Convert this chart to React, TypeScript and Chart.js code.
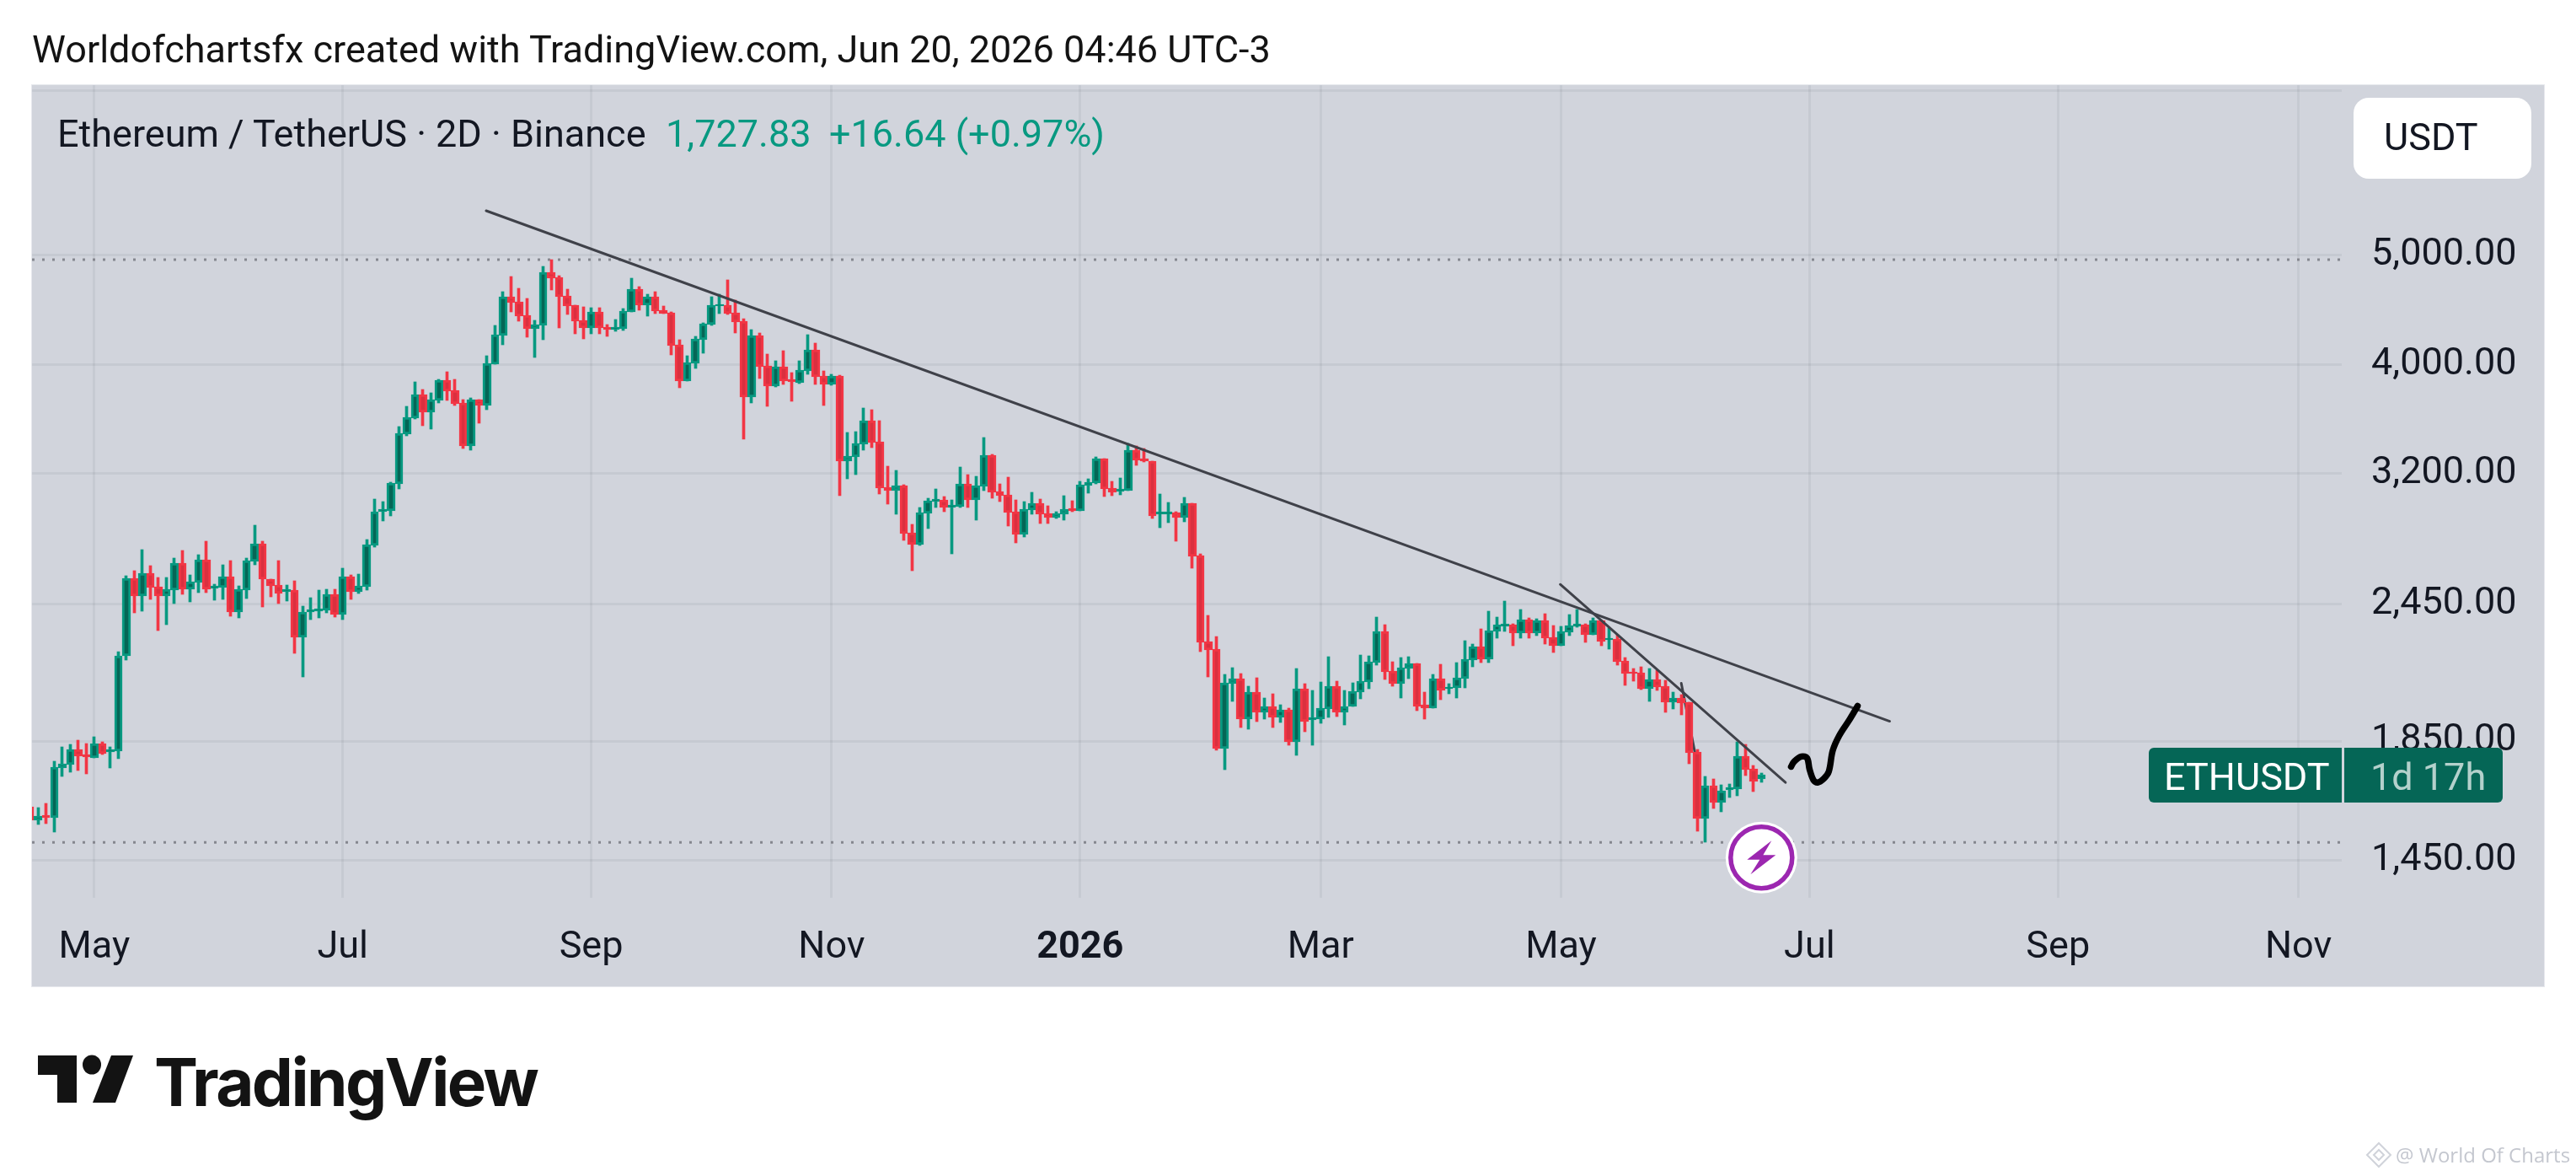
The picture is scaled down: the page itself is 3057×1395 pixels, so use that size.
import React, { useEffect, useRef } from "react";
import { Chart, registerables } from "chart.js";

Chart.register(...registerables);

const barOpen = [
  1619,1573,1589,1581,1750,1762,1818,1799,1787,1840,
  1809,1812,2203,2581,2489,2608,2537,2489,2519,2662,
  2523,2559,2680,2528,2532,2590,2409,2519,2671,2770,
  2576,2545,2510,2519,2287,2409,2413,2417,2497,2396,
  2590,2510,2537,2760,2958,2963,3131,3467,3583,3760,
  3626,3715,3872,3792,3696,3384,3721,3677,4001,4244,
  4594,4547,4423,4302,4332,4830,4780,4602,4515,4377,
  4310,4453,4317,4295,4302,4453,4666,4515,4594,4469,
  4445,4163,3866,4008,4207,4340,4507,4515,4445,4369,
  3740,4244,3987,3825,3980,3879,3852,3946,4120,3906,
  3839,3906,3281,3308,3396,3564,3413,3110,3088,3120,
  2833,2765,2948,3020,3030,2983,2988,3131,3030,3115,
  3320,3083,3062,2958,2823,2968,3009,2948,2923,2943,
  2978,2963,3120,3137,3297,3104,3083,3088,3355,3297,
  3281,2943,2943,2953,2923,3009,2704,2267,2232,1821,
  2080,2102,1934,2044,1961,1988,1941,1971,1849,2058,
  1931,1934,1975,2069,1964,1985,2044,2087,2172,2315,
  2135,2080,2146,2168,1992,1978,2102,2058,2062,2102,
  2183,2244,2187,2315,2339,2347,2307,2371,2307,2367,
  2287,2251,2311,2339,2347,2299,2367,2275,2279,2179,
  2131,2128,2058,2098,2069,2002,2020,2002,1809,1578,
  1688,1633,1673,1676,1793,1747,1711,
];
const barClose = [
  1573,1586,1581,1753,1765,1818,1793,1790,1840,1802,
  1818,2203,2581,2489,2608,2532,2489,2523,2662,2523,
  2563,2680,2523,2541,2590,2409,2523,2676,2770,2576,
  2541,2502,2523,2287,2409,2421,2425,2497,2396,2590,
  2510,2541,2765,2958,2973,3137,3473,3589,3760,3626,
  3721,3872,3786,3689,3384,3721,3677,4008,4251,4594,
  4539,4415,4302,4340,4830,4772,4594,4507,4369,4310,
  4453,4310,4295,4317,4461,4666,4515,4594,4461,4438,
  4156,3866,4015,4214,4347,4515,4523,4438,4362,3740,
  4244,3980,3825,3980,3866,3859,3953,4120,3899,3839,
  3906,3281,3314,3402,3564,3407,3104,3088,3120,2828,
  2765,2953,3025,3035,2983,2999,3131,3030,3120,3320,
  3078,3056,2953,2823,2973,3009,2943,2923,2948,2973,
  2963,3126,3142,3297,3099,3078,3099,3355,3286,3281,
  2933,2958,2958,2923,3009,2699,2263,2228,1821,2083,
  2102,1934,2044,1961,1988,1941,1971,1849,2058,1924,
  1941,1978,2069,1964,1988,2048,2091,2176,2315,2131,
  2080,2150,2168,1985,1981,2102,2051,2066,2106,2187,
  2244,2187,2319,2347,2351,2307,2371,2307,2367,2283,
  2251,2315,2343,2351,2299,2367,2267,2283,2176,2124,
  2124,2058,2098,2066,2002,2020,1999,1806,1578,1688,
  1633,1671,1682,1793,1744,1705,1728,
];
const barHigh = [
  1625,1614,1628,1775,1830,1837,1855,1840,1868,1846,
  1830,2224,2597,2621,2737,2648,2585,2585,2690,2732,
  2599,2708,2784,2550,2653,2676,2541,2690,2877,2784,
  2576,2676,2545,2567,2438,2480,2519,2523,2523,2635,
  2599,2603,2794,3035,3020,3142,3521,3670,3859,3799,
  3773,3879,3939,3879,3721,3734,3721,4071,4332,4642,
  4789,4674,4578,4377,4889,4956,4797,4666,4515,4499,
  4492,4492,4340,4385,4484,4772,4690,4618,4642,4507,
  4453,4207,4071,4236,4354,4594,4618,4756,4562,4392,
  4295,4266,4085,4029,4114,3933,4029,4251,4178,3946,
  3919,3912,3479,3485,3658,3645,3564,3247,3219,3126,
  2882,2983,3041,3099,3051,3030,3241,3192,3181,3443,
  3326,3131,3175,3030,3020,3078,3035,2994,2958,3056,
  3025,3148,3164,3308,3297,3148,3170,3402,3384,3366,
  3281,3067,3015,2958,3046,3009,2713,2392,2291,2120,
  2150,2124,2069,2106,2020,2037,1992,1981,2146,2080,
  2051,2087,2198,2091,2051,2083,2205,2202,2384,2347,
  2176,2194,2198,2168,2044,2120,2165,2080,2172,2271,
  2255,2327,2413,2384,2463,2351,2421,2380,2375,2400,
  2343,2339,2396,2421,2351,2380,2367,2331,2299,2194,
  2146,2153,2146,2138,2095,2044,2034,2002,1818,1720,
  1711,1691,1694,1846,1837,1759,1732,
];
const barLow = [
  1570,1559,1562,1535,1720,1735,1741,1729,1787,1799,
  1750,1784,2185,2405,2413,2472,2319,2347,2451,2497,
  2459,2506,2506,2468,2472,2388,2380,2476,2653,2434,
  2485,2451,2463,2213,2109,2371,2380,2405,2384,2371,
  2472,2502,2519,2751,2902,2933,3099,3455,3577,3527,
  3503,3696,3715,3677,3366,3355,3546,3645,4001,4163,
  4453,4369,4229,4057,4207,4658,4310,4430,4258,4214,
  4258,4258,4236,4280,4288,4453,4469,4415,4438,4438,
  4078,3812,3866,3967,4092,4332,4438,4430,4266,3431,
  3696,3886,3670,3819,3839,3708,3846,3919,3839,3677,
  3832,3056,3164,3192,3355,3372,3067,3004,2943,2789,
  2621,2760,2858,2983,2958,2713,2983,2983,2907,3088,
  3041,3020,2872,2775,2808,2943,2887,2887,2917,2907,
  2958,2963,3072,3131,3051,3056,3062,3088,3253,3275,
  2917,2862,2892,2784,2897,2635,2221,2109,1815,1744,
  2006,1901,1895,1924,1934,1904,1921,1834,1796,1885,
  1834,1918,1941,1944,1914,1985,2016,2058,2161,2098,
  2069,2020,2102,1968,1934,1978,2013,2037,2020,2062,
  2153,2172,2172,2283,2315,2251,2283,2283,2295,2255,
  2217,2251,2295,2335,2263,2299,2251,2232,2161,2073,
  2091,2055,2006,2051,1964,1975,1954,1766,1538,1504,
  1611,1600,1650,1653,1723,1668,1702,
];

const timeTickBars = [8, 39, 70, 100, 131, 161, 191, 222, 253, 283];
const timeTickLabels = ["May", "Jul", "Sep", "Nov", "2026", "Mar", "May", "Jul", "Sep", "Nov"];
const priceTicks = [7000, 5000, 4000, 3200, 2450, 1850, 1450];
const hiddenPriceTicks = [7000];

const firstVisibleBar = 0.24;
const lastVisibleBar = 288.4;
const priceTop = 7085;
const priceBottom = 1342.6;

const highestPrice = 4957;
const lowestPrice = 1504;

const mainTrendBars = [56.9, 232.0];
const mainTrendPrices = [5479, 1927];
const shortTrendBars = [190.9, 219.0];
const shortTrendPrices = [2550, 1700];
const tickTrendBars = [206.0, 207.8];
const tickTrendPrices = [2083, 1793];
const scribbleBars = [219.7, 220.1, 221.0, 221.7, 222.0, 222.5, 223.0, 223.8, 224.4, 224.9, 225.7, 227.0, 228.0];
const scribblePrices = [1756, 1775, 1793, 1787, 1747, 1708, 1700, 1714, 1738, 1815, 1871, 1934, 1988];
const lightningBar = 216;
const lightningPrice = 1458;

const GREEN = "#089981";
const GREEN_DARK = "#056656";
const RED = "#F23645";
const RED_DARK = "#DA303F";
const INK = "#131722";
const GRID = "rgba(42,46,57,0.06)";
const TREND = "#3F4149";
const FONT = "Roboto";

const toPoints = (xs: number[], ys: number[]) => xs.map((x, i) => ({ x, y: ys[i] }));
const isUp = (i: number) => barClose[i] >= barOpen[i];

// Keeps the candles on whole device pixels, as the reference's renderer does.
const crispBarsPlugin = {
  id: "crispBars",
  beforeDatasetsDraw(chart: any) {
    chart.data.datasets.forEach((dataset: any, index: number) => {
      if (dataset.type !== "bar") return;
      chart.getDatasetMeta(index).data.forEach((el: any) => {
        if (dataset.label === "Wicks") {
          el.x = Math.floor(el.x) + 0.5;
        } else {
          const left = Math.round(el.x - 4.75);
          const right = Math.round(el.x + 4.75);
          el.x = (left + right) / 2;
          el.width = right - left;
        }
        el.y = Math.round(el.y);
        el.base = Math.round(el.base);
      });
    });
  },
};

const lightningPlugin = {
  id: "lightning",
  afterDatasetsDraw(chart: any) {
    const { ctx, scales } = chart;
    const cx = scales.x.getPixelForValue(lightningBar);
    const cy = scales.y.getPixelForValue(lightningPrice);
    ctx.save();
    ctx.beginPath();
    ctx.arc(cx, cy, 42.5, 0, Math.PI * 2);
    ctx.fillStyle = "#FFFFFF";
    ctx.fill();
    ctx.beginPath();
    ctx.arc(cx, cy, 36.5, 0, Math.PI * 2);
    ctx.strokeStyle = "#9C27B0";
    ctx.lineWidth = 5.5;
    ctx.stroke();
    const bolt = [[12, -20], [-17, 2.5], [-2, 2.5], [-13, 20], [17, -3], [2, -3]];
    ctx.beginPath();
    bolt.forEach(([dx, dy], i) => (i ? ctx.lineTo(cx + dx, cy + dy) : ctx.moveTo(cx + dx, cy + dy)));
    ctx.closePath();
    ctx.fillStyle = "#9C27B0";
    ctx.fill();
    ctx.restore();
  },
};

const abs = (left: number, top: number, extra: any = {}) => ({
  position: "absolute" as const,
  left,
  top,
  whiteSpace: "nowrap" as const,
  ...extra,
});

function Label({ x, cy, size = 45, color = INK, family = FONT, weight = 400, children }: any) {
  return (
    <span
      style={abs(x, cy - size, {
        height: size * 2,
        lineHeight: `${size * 2}px`,
        fontFamily: family,
        fontSize: size,
        fontWeight: weight,
        color,
      })}
    >
      {children}
    </span>
  );
}

export default function App() {
  const canvasRef = useRef<HTMLCanvasElement | null>(null);

  useEffect(() => {
    document.body.style.margin = "0";
    document.body.style.background = "#FFFFFF";
    const bars = barOpen.map((_, i) => i);
    const lineBase = {
      type: "line" as const,
      pointRadius: 0,
      fill: false,
      borderJoinStyle: "round" as const,
      borderCapStyle: "round" as const,
    };
    const chart = new Chart(canvasRef.current as HTMLCanvasElement, {
      type: "bar",
      data: {
        datasets: [
          {
            ...lineBase,
            label: "Session high",
            data: toPoints([firstVisibleBar, lastVisibleBar], [highestPrice, highestPrice]),
            borderColor: "#85878F",
            borderWidth: 3,
            borderDash: [3, 9],
            borderCapStyle: "butt",
            order: 8,
          },
          {
            ...lineBase,
            label: "Session low",
            data: toPoints([firstVisibleBar, lastVisibleBar], [lowestPrice, lowestPrice]),
            borderColor: "#85878F",
            borderWidth: 3,
            borderDash: [3, 9],
            borderCapStyle: "butt",
            order: 8,
          },
          {
            ...lineBase,
            label: "Tick trend",
            data: toPoints(tickTrendBars, tickTrendPrices),
            borderColor: TREND,
            borderWidth: 3,
            order: 7,
          },
          {
            type: "bar",
            label: "Wicks",
            data: bars.map((i) => ({ x: i, y: [barLow[i], barHigh[i]] })),
            backgroundColor: bars.map((i) => (isUp(i) ? GREEN : RED)),
            borderWidth: 0,
            barThickness: 3,
            grouped: false,
            order: 6,
          },
          {
            type: "bar",
            label: "Bodies",
            data: bars.map((i) => ({ x: i, y: [barOpen[i], barClose[i]] })),
            backgroundColor: bars.map((i) => (isUp(i) ? GREEN_DARK : RED_DARK)),
            borderColor: bars.map((i) => (isUp(i) ? GREEN : RED)),
            borderWidth: 3,
            borderSkipped: false,
            barThickness: 9.5,
            grouped: false,
            order: 5,
          },
          {
            ...lineBase,
            label: "Main trend",
            data: toPoints(mainTrendBars, mainTrendPrices),
            borderColor: TREND,
            borderWidth: 3,
            order: 3,
          },
          {
            ...lineBase,
            label: "Short trend",
            data: toPoints(shortTrendBars, shortTrendPrices),
            borderColor: TREND,
            borderWidth: 3,
            order: 3,
          },
          {
            ...lineBase,
            label: "Scribble",
            data: toPoints(scribbleBars, scribblePrices),
            borderColor: "#000000",
            borderWidth: 7.5,
            tension: 0.35,
            order: 1,
          },
        ] as any,
      },
      options: {
        responsive: false,
        animation: false,
        devicePixelRatio: 1,
        events: [],
        layout: { padding: { left: 38, right: 38, top: 101, bottom: 225 } },
        plugins: { legend: { display: false }, tooltip: { enabled: false }, title: { display: false } },
        scales: {
          x: {
            type: "linear",
            offset: false,
            min: firstVisibleBar,
            max: lastVisibleBar,
            bounds: "data",
            grid: { offset: false, color: GRID, lineWidth: 3, drawTicks: false },
            border: { display: false },
            afterBuildTicks: (scale: any) => {
              scale.ticks = timeTickBars.map((value) => ({ value }));
            },
            afterFit: (scale: any) => {
              scale.height = 105;
            },
            ticks: {
              autoSkip: false,
              maxRotation: 0,
              minRotation: 0,
              padding: 33,
              color: INK,
              font: (ctx: any) => ({
                family: FONT,
                size: 45,
                weight: ctx.tick && ctx.tick.label === "2026" ? "bold" : "normal",
              }),
              callback: (value: any) => timeTickLabels[timeTickBars.indexOf(value)],
            },
          },
          y: {
            type: "logarithmic",
            position: "right",
            min: priceBottom,
            max: priceTop,
            grid: { color: GRID, lineWidth: 3, drawTicks: false },
            border: { display: false },
            afterBuildTicks: (scale: any) => {
              scale.ticks = priceTicks.map((value) => ({ value }));
            },
            afterFit: (scale: any) => {
              scale.width = 240;
            },
            ticks: {
              autoSkip: false,
              padding: 35,
              labelOffset: 0,
              color: INK,
              font: { family: FONT, size: 45 },
              callback: (value: any) =>
                hiddenPriceTicks.includes(value)
                  ? ""
                  : Number(value).toLocaleString("en-US", { minimumFractionDigits: 2, maximumFractionDigits: 2 }),
            },
          },
        },
      } as any,
      plugins: [crispBarsPlugin, lightningPlugin],
    });
    return () => chart.destroy();
  }, []);

  return (
    <div style={{ position: "relative", width: 3057, height: 1395, overflow: "hidden", background: "#FFFFFF" }}>
      <div
        style={{
          position: "absolute",
          left: 38,
          top: 101,
          width: 2981,
          height: 1069,
          background: "#D1D4DC",
          outline: "1px solid #E6E8ED",
        }}
      />
      <canvas
        ref={canvasRef}
        width={3057}
        height={1395}
        style={{ position: "absolute", left: 0, top: 0, width: 3057, height: 1395, display: "block" }}
      />

      <Label x={38} cy={59} color="#131313">
        Worldofchartsfx created with TradingView.com, Jun 20, 2026 04:46 UTC-3
      </Label>
      <Label x={68} cy={159}>Ethereum / TetherUS · 2D · Binance</Label>
      <Label x={790} cy={159} color={GREEN}>1,727.83</Label>
      <Label x={984} cy={159} color={GREEN}>+16.64 (+0.97%)</Label>

      <div style={abs(2793, 116, { width: 211, height: 96, background: "#FFFFFF", borderRadius: 18 })} />
      <Label x={2829} cy={163} color="#131722">USDT</Label>

      <div style={abs(2550, 887, { width: 229, height: 65, background: GREEN_DARK, borderRadius: "6px 0 0 6px" })} />
      <div style={abs(2782, 887, { width: 188, height: 65, background: GREEN_DARK, borderRadius: "0 6px 6px 0" })} />
      <Label x={2568} cy={922} color="#FFFFFF">ETHUSDT</Label>
      <Label x={2813} cy={922} color="rgba(255,255,255,0.7)">1d 17h</Label>

      <svg style={abs(0, 0)} width={3057} height={1395} viewBox="0 0 3057 1395">
        <path d="M45 1252H91V1308H68V1275H45Z" fill="#131313" />
        <ellipse cx={109} cy={1263} rx={11} ry={11.5} fill="#131313" />
        <path d="M132 1252H158L137 1308H110Z" fill="#131313" />
        <g fill="none" stroke="#D0D3DA" strokeWidth={2}>
          <path d="M2823 1356L2837 1370L2823 1384L2809 1370Z" />
          <path d="M2823 1364L2829 1370L2823 1376L2817 1370Z" />
        </g>
      </svg>
      <span
        style={abs(183, 1237, {
          fontFamily: "Inter",
          fontSize: 78,
          lineHeight: "94px",
          fontWeight: 700,
          letterSpacing: "-2.6px",
          color: "#131313",
        })}
      >
        TradingView
      </span>
      <Label x={2843} cy={1370} size={24} color="#C4C7CF" family="'Open Sans'">@ World Of Charts</Label>
    </div>
  );
}
